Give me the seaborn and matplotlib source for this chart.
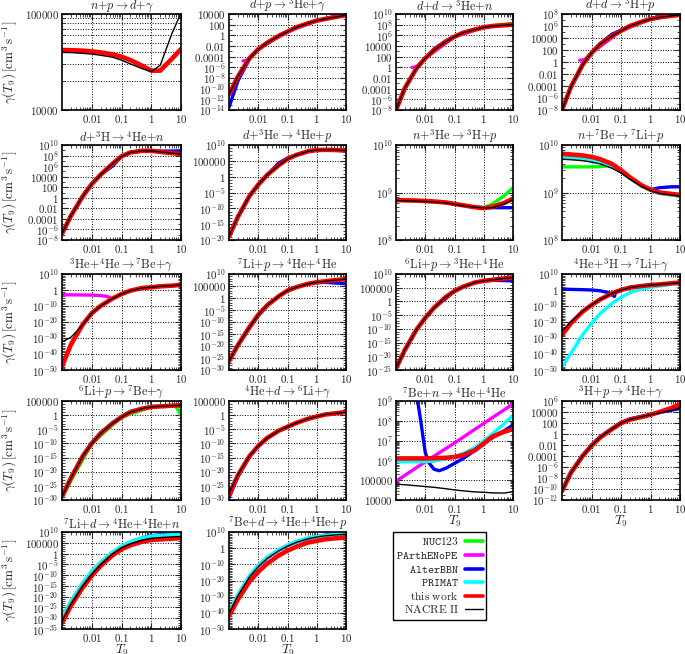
import numpy as np
import seaborn as sns
import matplotlib.pyplot as plt
from matplotlib.ticker import FixedLocator, FuncFormatter, NullFormatter, LogLocator
from matplotlib.lines import Line2D

sns.set_style("ticks")
plt.rcParams["mathtext.fontset"] = "cm"
plt.rcParams["font.family"] = ["DejaVu Serif"]

# -----------------------------
# Data: log10 of rates
# -----------------------------
t9 = [0.001, 0.002, 0.005, 0.01, 0.02, 0.05, 0.1, 0.2, 0.5, 1, 2, 5, 10]

# n + p -> d + gamma
np_work = [4.625, 4.623, 4.618, 4.61, 4.60, 4.58, 4.555, 4.52, 4.46, 4.41, 4.41, 4.535, 4.635]
np_nacre = [4.60, 4.598, 4.59, 4.583, 4.57, 4.55, 4.52, 4.48, 4.43, 4.40, 4.465, 4.8, 5.01]

# d + p -> 3He + gamma
dp_work = [-11.1, -7.75, -4.3, -2.6, -1.4, -0.1, 0.7, 1.5, 2.25, 2.75, 3.1, 3.5, 3.8]
dp_alter = [-13.5, -8.6, -4.4, -2.6, -1.4, -0.1, 0.7, 1.5, 2.25, 2.75, 3.1, 3.5, 3.8]
dp_parth_t = [0.003, 0.004, 0.005, 0.01, 0.1, 1, 10]
dp_parth = [-4.8, -4.7, -4.3, -2.6, 0.7, 2.75, 3.8]

# d + d -> 3He + n
ddn_work = [-8.0, -3.9, -0.2, 1.7, 3.25, 4.8, 5.75, 6.5, 7.1, 7.5, 7.75, 7.9, 8.0]
ddn_nuc = [-8.0, -3.9, -0.2, 1.7, 3.25, 4.8, 5.75, 6.5, 7.1, 7.5, 7.8, 8.05, 8.25]
ddn_alter = [-8.0, -3.9, -0.2, 1.7, 3.45, 4.95, 5.8, 6.5, 7.1, 7.5, 7.75, 7.9, 8.0]
ddn_parth_t = [0.0035, 0.0045, 0.0055, 0.01, 0.1, 1, 10]
ddn_parth = [0.0, 0.05, 0.3, 1.7, 5.75, 7.5, 8.0]

# d + d -> 3H + p
ddp_work = [-8.0, -4.15, -0.45, 1.5, 3.0, 4.35, 5.2, 6.0, 6.7, 7.15, 7.45, 7.7, 7.9]
ddp_alter = [-8.0, -4.15, -0.45, 1.5, 3.1, 4.65, 5.3, 6.0, 6.7, 7.2, 7.65, 7.8, 7.9]
ddp_parth_t = [0.004, 0.005, 0.006, 0.01, 0.1, 1, 10]
ddp_parth = [0.3, 0.35, 0.45, 1.5, 5.2, 7.15, 7.9]

# d + 3H -> 4He + n
dt_work = [-6.8, -3.4, 0.3, 2.6, 4.4, 6.45, 7.85, 8.6, 8.9, 8.9, 8.7, 8.45, 8.3]
dt_alter = [-6.8, -3.4, 0.3, 2.6, 4.4, 6.0, 7.85, 8.6, 8.9, 8.9, 8.85, 8.85, 8.9]

# d + 3He -> 4He + p
dhe_work = [-18.9, -12.75, -6.1, -2.55, 0.5, 3.6, 5.6, 6.85, 8.0, 8.4, 8.5, 8.4, 8.2]
dhe_alter = [-18.9, -12.75, -6.1, -2.55, 0.5, 4.3, 5.9, 6.85, 8.0, 8.4, 8.5, 8.4, 8.2]

# n + 3He -> 3H + p
nhe_work = [8.84, 8.835, 8.83, 8.82, 8.81, 8.79, 8.76, 8.73, 8.69, 8.67, 8.70, 8.78, 8.87]
nhe_nacre = [8.83, 8.825, 8.82, 8.81, 8.80, 8.78, 8.75, 8.72, 8.69, 8.675, 8.68, 8.76, 8.85]
nhe_nuc = [8.84, 8.835, 8.83, 8.82, 8.81, 8.79, 8.76, 8.73, 8.69, 8.68, 8.76, 8.93, 9.1]
nhe_alter = [8.84, 8.835, 8.83, 8.82, 8.81, 8.79, 8.76, 8.73, 8.69, 8.68, 8.68, 8.68, 8.68]

# n + 7Be -> 7Li + p
nbe_work = [9.815, 9.80, 9.78, 9.75, 9.70, 9.60, 9.47, 9.32, 9.15, 9.06, 9.0, 8.97, 8.95]
nbe_nacre = [9.70, 9.69, 9.67, 9.64, 9.60, 9.51, 9.41, 9.28, 9.13, 9.04, 8.98, 8.95, 8.92]
nbe_primat = [9.74, 9.73, 9.71, 9.68, 9.64, 9.55, 9.44, 9.30, 9.14, 9.05, 8.98, 8.95, 8.93]
nbe_alter = [9.77, 9.76, 9.74, 9.71, 9.66, 9.56, 9.45, 9.31, 9.15, 9.06, 9.10, 9.12, 9.12]
nbe_nuc = [9.54, 9.54, 9.54, 9.54, 9.545, 9.57, 9.44, 9.30, 9.14, 9.05, 8.99, 8.95, 8.92]

# 3He + 4He -> 7Be + gamma
hea_work = [-47.8, -34.0, -21.5, -14.5, -9.9, -5.3, -2.5, -0.4, 1.26, 1.7, 2.3, 2.7, 3.2]
hea_nacre = [-32.5, -29.5, -21.8, -14.5, -9.9, -5.3, -2.5, -0.4, 1.26, 1.7, 2.3, 2.7, 3.2]
hea_parth_t = [0.001, 0.003, 0.01, 0.02, 0.03, 0.04, 0.045, 0.05, 0.1, 0.2, 0.5, 1, 2, 5, 10]
hea_parth = [-3.0, -3.05, -3.2, -3.5, -3.9, -4.6, -6.0, -5.3, -2.5, -0.4, 1.26, 1.7, 2.3, 2.7, 3.2]

# 7Li + p -> 4He + 4He
lip_work = [-26.3, -19.7, -12.1, -7.0, -3.1, 0.75, 3.1, 4.5, 5.9, 6.55, 7.0, 7.5, 7.9]
lip_alter = [-26.3, -19.7, -12.6, -7.3, -3.1, 0.75, 3.1, 4.5, 5.9, 6.4, 6.5, 6.2, 5.9]

# 6Li + p -> 3He + 4He
li6p_work = [-24.4, -17.7, -10.3, -6.0, -2.3, 1.6, 3.8, 5.4, 6.9, 7.5, 7.9, 8.4, 8.7]
li6p_alter = [-24.4, -17.7, -10.3, -6.0, -2.3, 1.0, 3.8, 5.4, 6.9, 7.5, 7.7, 7.6, 7.5]

# 4He + 3H -> 7Li + gamma
hat_work = [-28.1, -20.8, -13.5, -9.4, -5.8, -2.1, 0.0, 1.5, 2.5, 3.1, 3.5, 4.2, 4.6]
hat_nacre = [-25.8, -19.9, -13.2, -9.3, -5.8, -2.1, 0.0, 1.5, 2.5, 3.1, 3.5, 4.1, 4.5]
hat_primat = [-48.0, -39.6, -28.0, -20.8, -14.6, -8.3, -4.6, -1.7, 0.6, 1.7, 2.5, 3.5, 4.2]
hat_alter_t = [0.001, 0.002, 0.005, 0.01, 0.02, 0.04, 0.06, 0.065, 0.1, 0.2, 0.5, 1, 2, 5, 10]
hat_alter = [0.5, 0.4, 0.2, 0.0, -0.5, -1.8, -4.0, -1.6, 0.0, 1.5, 2.5, 3.1, 3.5, 4.2, 4.6]

# 6Li + p -> 7Be + gamma
li6g_work = [-28.8, -22.2, -14.5, -10.0, -6.45, -2.9, -0.7, 1.1, 2.3, 2.9, 3.1, 3.35, 3.5]
li6g_primat = [-28.5, -21.8, -14.0, -9.5, -6.0, -2.5, -0.3, 1.4, 2.5, 3.0, 3.2, 3.4, 3.5]
li6g_nuc_t = [0.001, 0.01, 0.1, 1, 2, 5, 7, 10]
li6g_nuc = [-28.8, -10.0, -0.7, 2.9, 3.1, 3.35, 2.8, 0.0]

# 4He + d -> 6Li + gamma
had_work = [-28.2, -21.3, -14.5, -10.9, -8.1, -5.5, -4.1, -2.75, -1.3, -0.5, 0.25, 0.7, 1.1]
had_nacre = [-27.5, -21.1, -14.5, -10.9, -8.1, -5.5, -4.1, -2.75, -1.3, -0.5, 0.25, 0.7, 1.1]
had_alter = [-29.2, -21.8, -14.7, -11.0, -8.2, -5.6, -4.2, -2.8, -1.3, -0.5, 0.25, 0.7, 1.1]

# 7Be + n -> 4He + 4He
ben_work = [6.1, 6.1, 6.1, 6.1, 6.11, 6.13, 6.17, 6.27, 6.52, 6.85, 7.2, 7.45, 7.58]
ben_primat = [5.93, 5.93, 5.93, 5.94, 5.96, 6.08, 6.2, 6.35, 6.65, 6.99, 7.35, 7.85, 8.27]
ben_nacre = [4.8, 4.77, 4.72, 4.68, 4.64, 4.57, 4.51, 4.46, 4.41, 4.39, 4.36, 4.35, 4.42]
ben_alter_t = [0.0045, 0.0055, 0.007, 0.008, 0.01, 0.013, 0.02, 0.03, 0.05, 0.1, 0.2, 0.5, 1, 2, 5, 10]
ben_alter = [10.0, 9.0, 8.0, 7.4, 6.4, 5.9, 5.55, 5.48, 5.6, 5.85, 6.1, 6.5, 6.85, 7.15, 7.5, 7.78]
ben_parth_t = [0.001, 0.01, 0.1, 1, 10]
ben_parth = [4.95, 5.93, 6.88, 7.87, 8.85]

# 3H + p -> 4He + gamma
tp_work = [-10.4, -7.05, -4.0, -2.15, -0.6, 0.9, 1.95, 2.6, 3.1, 3.5, 4.0, 4.7, 5.4]
tp_alter = [-10.3, -6.9, -3.85, -2.0, -0.45, 1.05, 2.1, 2.75, 3.2, 3.55, 3.9, 4.3, 4.65]
tp_nacre = [-10.4, -7.05, -4.0, -2.1, -0.55, 0.95, 2.0, 2.65, 3.15, 3.5, 3.85, 4.3, 4.75]

# 7Li + d -> 4He + 4He + n
lid_work = [-32.2, -24.2, -15.7, -10.3, -5.7, -0.8, 2.0, 3.85, 5.5, 6.3, 6.6, 6.9, 7.2]
lid_primat = [-29.5, -21.8, -13.4, -8.0, -3.85, 0.8, 3.5, 5.5, 7.4, 8.15, 8.45, 8.8, 8.9]
lid_alter = [-30.0, -22.3, -13.9, -8.5, -4.3, 0.4, 3.2, 5.3, 7.3, 8.3, 8.7, 9.0, 9.1]
lid_nacre = [-31.6, -23.6, -15.1, -9.7, -5.1, -0.2, 2.6, 4.5, 6.2, 7.0, 7.4, 7.7, 7.9]

# 7Be + d -> 4He + 4He + p
bed_work = [-41.9, -31.8, -20.7, -14.6, -9.6, -4.5, -1.5, 0.9, 3.5, 4.5, 5.55, 6.2, 6.6]
bed_primat = [-39.9, -28.8, -17.1, -10.6, -5.6, -0.9, 1.9, 4.1, 6.2, 7.2, 8.0, 8.6, 9.0]
bed_alter = [-40.0, -29.0, -17.4, -11.0, -6.0, -1.2, 1.6, 3.9, 6.1, 7.2, 8.1, 8.8, 9.2]
bed_nacre = [-40.5, -29.5, -17.8, -11.4, -6.4, -1.6, 1.3, 3.6, 5.8, 6.9, 7.7, 8.3, 8.6]

# -----------------------------
# Styles
# -----------------------------
codes = ["NUC123", "PArthENoPE", "AlterBBN", "PRIMAT", "this work", "NACRE II"]
colors = {"NUC123": "#00ff00", "PArthENoPE": "#ff00ff", "AlterBBN": "#0000ff",
          "PRIMAT": "#00ffff", "this work": "#ff0000", "NACRE II": "black"}
widths = {"NUC123": 2.4, "PArthENoPE": 2.4, "AlterBBN": 2.4,
          "PRIMAT": 2.4, "this work": 3.3, "NACRE II": 1.0}
labels = [r"$\mathtt{NUC123}$", r"$\mathtt{PArthENoPE}$", r"$\mathtt{AlterBBN}$",
          r"$\mathtt{PRIMAT}$", r"$\mathrm{this\ work}$", r"$\mathrm{NACRE\ II}$"]

# panels: title, log10 ylim low/high, tick step, series (t, values, code)
panels = [
    (r"$n{+}p \rightarrow d{+}\gamma$", 4, 5, 1,
     [(t9, np_work, "this work"), (t9, np_nacre, "NACRE II")]),
    (r"$d{+}p \rightarrow {}^3\mathrm{He}{+}\gamma$", -14, 4, 2,
     [(t9, dp_work, "NUC123"), (dp_parth_t, dp_parth, "PArthENoPE"), (t9, dp_alter, "AlterBBN"),
      (t9, dp_work, "this work"), (t9, dp_work, "NACRE II")]),
    (r"$d{+}d \rightarrow {}^3\mathrm{He}{+}n$", -8, 10, 2,
     [(t9, ddn_nuc, "NUC123"), (ddn_parth_t, ddn_parth, "PArthENoPE"), (t9, ddn_alter, "AlterBBN"),
      (t9, ddn_work, "this work"), (t9, ddn_work, "NACRE II")]),
    (r"$d{+}d \rightarrow {}^3\mathrm{H}{+}p$", -8, 8, 2,
     [(ddp_parth_t, ddp_parth, "PArthENoPE"), (t9, ddp_alter, "AlterBBN"),
      (t9, ddp_work, "this work"), (t9, ddp_work, "NACRE II")]),
    (r"$d{+}{}^3\mathrm{H} \rightarrow {}^4\mathrm{He}{+}n$", -8, 10, 2,
     [(t9, dt_alter, "AlterBBN"), (t9, dt_work, "this work"), (t9, dt_work, "NACRE II")]),
    (r"$d{+}{}^3\mathrm{He} \rightarrow {}^4\mathrm{He}{+}p$", -20, 10, 5,
     [(t9, dhe_alter, "AlterBBN"), (t9, dhe_work, "this work"), (t9, dhe_work, "NACRE II")]),
    (r"$n{+}{}^3\mathrm{He} \rightarrow {}^3\mathrm{H}{+}p$", 8, 10, 1,
     [(t9, nhe_nuc, "NUC123"), (t9, nhe_alter, "AlterBBN"),
      (t9, nhe_work, "this work"), (t9, nhe_nacre, "NACRE II")]),
    (r"$n{+}{}^7\mathrm{Be} \rightarrow {}^7\mathrm{Li}{+}p$", 8, 10, 1,
     [(t9, nbe_nuc, "NUC123"), (t9, nbe_alter, "AlterBBN"), (t9, nbe_primat, "PRIMAT"),
      (t9, nbe_work, "this work"), (t9, nbe_nacre, "NACRE II")]),
    (r"${}^3\mathrm{He}{+}{}^4\mathrm{He} \rightarrow {}^7\mathrm{Be}{+}\gamma$", -50, 10, 10,
     [(hea_parth_t, hea_parth, "PArthENoPE"), (t9, hea_work, "this work"), (t9, hea_nacre, "NACRE II")]),
    (r"${}^7\mathrm{Li}{+}p \rightarrow {}^4\mathrm{He}{+}{}^4\mathrm{He}$", -30, 10, 5,
     [(t9, lip_alter, "AlterBBN"), (t9, lip_work, "this work"), (t9, lip_work, "NACRE II")]),
    (r"${}^6\mathrm{Li}{+}p \rightarrow {}^3\mathrm{He}{+}{}^4\mathrm{He}$", -25, 10, 5,
     [(t9, li6p_alter, "AlterBBN"), (t9, li6p_work, "this work"), (t9, li6p_work, "NACRE II")]),
    (r"${}^4\mathrm{He}{+}{}^3\mathrm{H} \rightarrow {}^7\mathrm{Li}{+}\gamma$", -50, 10, 10,
     [(hat_alter_t, hat_alter, "AlterBBN"), (t9, hat_primat, "PRIMAT"),
      (t9, hat_work, "this work"), (t9, hat_nacre, "NACRE II")]),
    (r"${}^6\mathrm{Li}{+}p \rightarrow {}^7\mathrm{Be}{+}\gamma$", -30, 5, 5,
     [(li6g_nuc_t, li6g_nuc, "NUC123"), (t9, li6g_primat, "PRIMAT"),
      (t9, li6g_work, "this work"), (t9, li6g_work, "NACRE II")]),
    (r"${}^4\mathrm{He}{+}d \rightarrow {}^6\mathrm{Li}{+}\gamma$", -30, 5, 5,
     [(t9, had_alter, "AlterBBN"), (t9, had_work, "this work"), (t9, had_nacre, "NACRE II")]),
    (r"${}^7\mathrm{Be}{+}n \rightarrow {}^4\mathrm{He}{+}{}^4\mathrm{He}$", 4, 9, 1,
     [(ben_parth_t, ben_parth, "PArthENoPE"), (ben_alter_t, ben_alter, "AlterBBN"),
      (t9, ben_primat, "PRIMAT"), (t9, ben_work, "this work"), (t9, ben_nacre, "NACRE II")]),
    (r"${}^3\mathrm{H}{+}p \rightarrow {}^4\mathrm{He}{+}\gamma$", -12, 6, 2,
     [(t9, tp_alter, "AlterBBN"), (t9, tp_work, "this work"), (t9, tp_nacre, "NACRE II")]),
    (r"${}^7\mathrm{Li}{+}d \rightarrow {}^4\mathrm{He}{+}{}^4\mathrm{He}{+}n$", -35, 10, 5,
     [(t9, lid_alter, "AlterBBN"), (t9, lid_primat, "PRIMAT"),
      (t9, lid_work, "this work"), (t9, lid_nacre, "NACRE II")]),
    (r"${}^7\mathrm{Be}{+}d \rightarrow {}^4\mathrm{He}{+}{}^4\mathrm{He}{+}p$", -50, 10, 10,
     [(t9, bed_alter, "AlterBBN"), (t9, bed_primat, "PRIMAT"),
      (t9, bed_work, "this work"), (t9, bed_nacre, "NACRE II")]),
]

# -----------------------------
# Layout (pixels)
# -----------------------------
W, H = 685, 654
col_x = [62, 229, 396, 562]
col_w = [119, 117, 117, 118]
row_y = [14, 145, 274, 401, 532]
row_h = [96, 95, 96, 99, 97]
xlabel_panels = {14, 15, 16, 17}


def ytick_fmt(v, pos):
    e = int(round(np.log10(v)))
    if -4 <= e <= 5:
        return "$%s$" % ("%.*f" % (max(0, -e), v))
    return "$10^{%d}$" % e


def xtick_fmt(v, pos):
    return "$%s$" % {0.01: "0.01", 0.1: "0.1", 1: "1", 10: "10"}.get(round(v, 3), "")


fig = plt.figure(figsize=(W / 100, H / 100), dpi=100)

for i, (title, lo, hi, step, series) in enumerate(panels):
    r, c = divmod(i, 4)
    ax = fig.add_axes([col_x[c] / W, 1 - (row_y[r] + row_h[r]) / H, col_w[c] / W, row_h[r] / H])
    for t, v, code in series:
        sns.lineplot(x=t, y=10.0 ** np.array(v), ax=ax, color=colors[code],
                     lw=widths[code], estimator=None, sort=False, legend=False)
    ax.set_xscale("log")
    ax.set_yscale("log")
    ax.set_xlim(1e-3, 10)
    ax.set_ylim(10.0 ** lo, 10.0 ** hi)

    ax.xaxis.set_major_locator(FixedLocator([0.01, 0.1, 1, 10]))
    ax.xaxis.set_minor_locator(LogLocator(base=10, subs=np.arange(2, 10), numticks=20))
    ax.xaxis.set_major_formatter(FuncFormatter(xtick_fmt))
    ax.xaxis.set_minor_formatter(NullFormatter())

    ax.yaxis.set_major_locator(FixedLocator([10.0 ** k for k in range(lo, hi + 1, step)]))
    if step == 1:
        ax.yaxis.set_minor_locator(LogLocator(base=10, subs=np.arange(2, 10), numticks=20))
    else:
        ax.yaxis.set_minor_locator(FixedLocator([10.0 ** k for k in range(lo, hi + 1) if (k - lo) % step]))
    ax.yaxis.set_major_formatter(FuncFormatter(ytick_fmt))
    ax.yaxis.set_minor_formatter(NullFormatter())

    ax.tick_params(which="both", direction="in", top=True, right=True, labelsize=7.8, pad=2.5)
    ax.tick_params(which="major", length=4, width=0.8)
    ax.tick_params(which="minor", length=2, width=0.6)
    ax.grid(which="major", ls=":", color="black", lw=0.7)
    if i == 0:
        ax.grid(which="minor", axis="y", ls=":", color="black", lw=0.7)
    for s in ax.spines.values():
        s.set_linewidth(1.2)
        s.set_color("black")

    ax.set_title(title, fontsize=8.8, pad=1)
    ax.set_xlabel(r"$T_9$" if i in xlabel_panels else "", fontsize=9.5, labelpad=-1.5)
    if c == 0:
        ax.set_ylabel(r"$\gamma(T_9)\,[\mathrm{cm}^3\,\mathrm{s}^{-1}]$", fontsize=9.5)
        ax.yaxis.set_label_coords(-0.36, 0.5)
    else:
        ax.set_ylabel("")

# -----------------------------
# Legend
# -----------------------------
handles = [Line2D([], [], color=colors[k], lw=(2.6 if k != "NACRE II" else 1.0)) for k in codes]
leg = fig.legend(handles, labels, loc="upper left", bbox_to_anchor=(393 / W, 1 - 532 / H),
                 markerfirst=False, frameon=True, fancybox=False, edgecolor="black",
                 fontsize=8.3, handlelength=1.6, handletextpad=0.5, labelspacing=0.05,
                 borderpad=0.3, borderaxespad=0)
leg.get_frame().set_linewidth(1.0)
leg.get_frame().set_alpha(1)

plt.savefig("out.png", dpi=100)
